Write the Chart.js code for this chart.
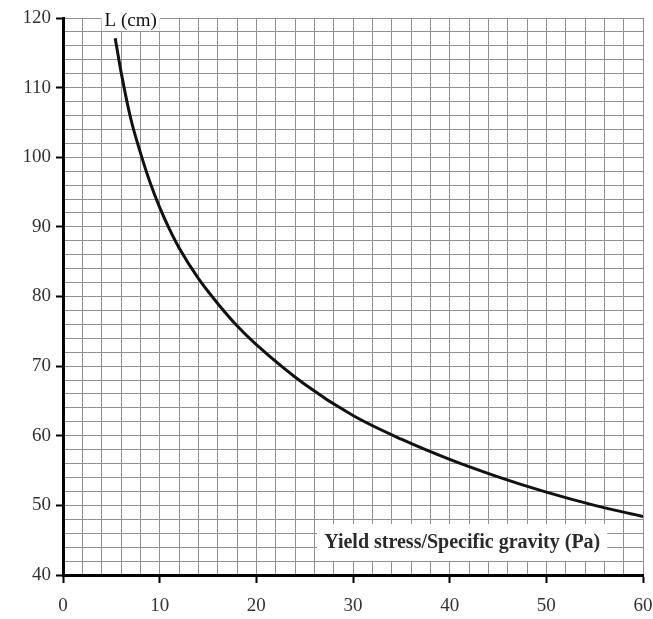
<!DOCTYPE html>
<html>
<head>
<meta charset="utf-8">
<script src="https://cdn.jsdelivr.net/npm/chart.js@4/dist/chart.umd.min.js"></script>
<style>
  html, body { margin: 0; padding: 0; background: #fff; }
  #wrap { width: 653px; height: 619px; }
</style>
</head>
<body>
<div id="wrap"><canvas id="c" width="653" height="619"></canvas></div>
<script>
// Yield stress / specific gravity (Pa) against length L (cm)
const stressValues = [5.4, 6, 7, 8, 9, 10, 11, 12, 14, 16, 18, 20, 25, 30, 35, 40, 45, 50, 55, 60];
const lengthValues = [117.1, 112.3, 105.6, 100.7, 96.4, 92.8, 89.7, 87.0, 82.6, 79.0, 75.8, 73.1, 67.4, 62.9, 59.5, 56.6, 54.1, 51.9, 50.0, 48.4];

const xTickLabels = ['0', '10', '20', '30', '40', '50', '60'];
const yTickLabels = ['40', '50', '60', '70', '80', '90', '100', '110', '120'];

const yAxisTitle = 'L (cm)';
const xAxisTitle = 'Yield stress/Specific gravity (Pa)';

const points = stressValues.map((x, i) => ({ x: x, y: lengthValues[i] }));

const serif = '"Liberation Serif", "Times New Roman", serif';

// Axis titles sit inside the plot on white boxes
const boxedTitles = {
  id: 'boxedTitles',
  afterDraw(chart) {
    const ctx = chart.ctx;
    const xs = chart.scales.x, ys = chart.scales.y;
    ctx.save();
    ctx.textBaseline = 'middle';
    ctx.textAlign = 'center';

    // L (cm) on the top edge
    ctx.font = '19px ' + serif;
    let w = ctx.measureText(yAxisTitle).width;
    let cx = xs.getPixelForValue(7.0);
    let cy = ys.getPixelForValue(120) + 3;
    ctx.fillStyle = '#fff';
    ctx.fillRect(cx - w / 2 - 3, cy - 12, w + 6, 22);
    ctx.fillStyle = '#111';
    ctx.fillText(yAxisTitle, cx, cy);

    // x quantity label near the bottom right
    ctx.font = 'bold 20px ' + serif;
    w = ctx.measureText(xAxisTitle).width;
    cx = xs.getPixelForValue(41.3);
    cy = ys.getPixelForValue(44.6);
    ctx.fillStyle = '#fff';
    ctx.fillRect(cx - w / 2 - 7, cy - 19, w + 14, 37);
    ctx.fillStyle = '#2a2a2a';
    ctx.fillText(xAxisTitle, cx, cy);
    ctx.restore();
  }
};

function majorColor(ctx, step) {
  const v = ctx.tick ? ctx.tick.value : null;
  return (v !== null && Math.abs(v % step) < 1e-6) ? '#000' : 'rgba(0,0,0,0)';
}

new Chart(document.getElementById('c'), {
  type: 'line',
  data: {
    datasets: [{
      data: points,
      borderColor: '#111',
      borderWidth: 3,
      pointRadius: 0,
      fill: false,
      cubicInterpolationMode: 'monotone'
    }]
  },
  options: {
    responsive: false,
    animation: false,
    events: [],
    layout: { padding: { top: 18, right: 10, left: 0, bottom: 0 } },
    plugins: { legend: { display: false }, tooltip: { enabled: false } },
    scales: {
      x: {
        type: 'linear',
        min: 0, max: 60,
        afterFit(scale) {
          scale.height = 44;
          scale.paddingRight = 0;
          scale.paddingLeft = 0;
        },
        border: { color: '#000', width: 3 },
        grid: {
          color: '#909090',
          lineWidth: 1,
          drawTicks: true,
          tickLength: 8,
          tickWidth: 2,
          tickColor: (ctx) => majorColor(ctx, 10)
        },
        ticks: {
          stepSize: 2,
          autoSkip: false,
          maxRotation: 0,
          padding: 12,
          color: '#333',
          font: { family: serif, size: 19 },
          callback: (v) => (v % 10 === 0 ? xTickLabels[v / 10] : '')
        }
      },
      y: {
        type: 'linear',
        min: 40, max: 120,
        afterFit(scale) {
          scale.width = 63;
          scale.paddingTop = 0;
          scale.paddingBottom = 0;
        },
        border: { color: '#000', width: 3 },
        grid: {
          color: '#909090',
          lineWidth: 1,
          drawTicks: true,
          tickLength: 7,
          tickWidth: 2,
          tickColor: (ctx) => majorColor(ctx, 10)
        },
        ticks: {
          stepSize: 2,
          autoSkip: false,
          padding: 5,
          color: '#333',
          font: { family: serif, size: 19 },
          callback: (v) => (v % 10 === 0 ? yTickLabels[(v - 40) / 10] : '')
        }
      }
    }
  },
  plugins: [boxedTitles]
});
</script>
</body>
</html>
